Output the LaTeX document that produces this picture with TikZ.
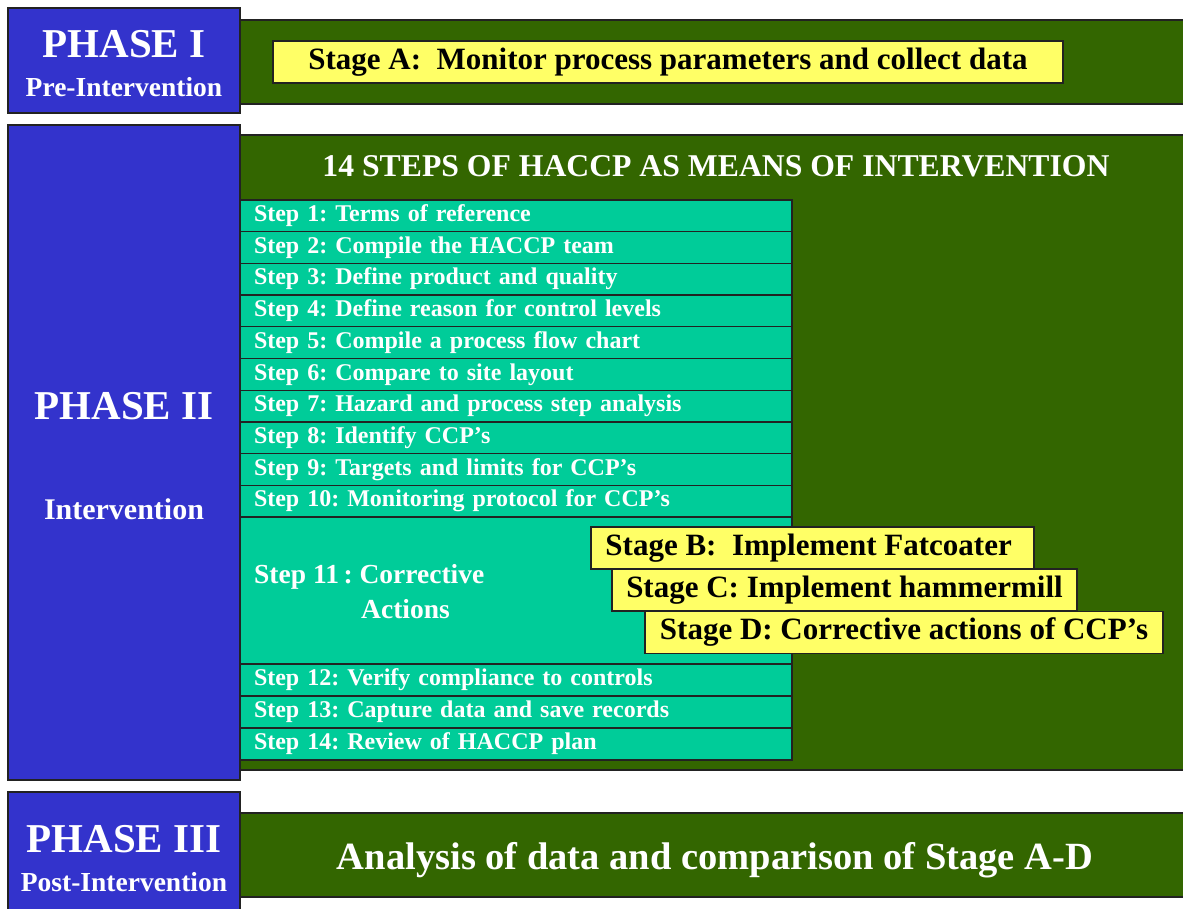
\documentclass[tikz,border=0pt]{standalone}
\usepackage{fontspec}
\setmainfont{Liberation Serif}
\frenchspacing
\definecolor{phaseblue}{HTML}{3333CC}
\definecolor{leafgreen}{HTML}{336600}
\definecolor{stepteal}{HTML}{00CC99}
\definecolor{stageyellow}{HTML}{FFFF66}
\definecolor{edgegray}{HTML}{222222}

\tikzset{
  frame/.style={draw=edgegray, line width=1.3pt, inner sep=0pt, outer sep=0pt},
  phasebox/.style={frame, fill=phaseblue, minimum width=232pt},
  panel/.style={frame, fill=leafgreen, minimum width=950pt},
  steprow/.style={frame, fill=stepteal, minimum width=552pt, minimum height=31.7pt,
    text height=17pt, text depth=5.7pt,
    text width=524pt, align=left, text=white, font=\fontsize{24}{26}\selectfont\bfseries},
  stagebox/.style={frame, fill=stageyellow, minimum height=42pt,
    font=\fontsize{31}{33}\selectfont\bfseries},
  phasetitle/.style={text=white, anchor=base, inner sep=0pt, font=\fontsize{41}{44}\selectfont\bfseries},
  phasesub/.style={text=white, anchor=base, inner sep=0pt, font=\fontsize{27.5}{30}\selectfont\bfseries},
  lighttext/.style={text=white, anchor=base west, inner sep=0pt, font=\fontsize{27.5}{30}\selectfont\bfseries},
}

\begin{document}
\begin{tikzpicture}[x=1pt, y=-1pt]
\useasboundingbox (0,0) rectangle (1183,909);
\clip (0,0) rectangle (1183,909);

% green panels behind everything
\node[panel, minimum height=84pt]  (panelA) at (715,62) {};
\node[panel, minimum height=635pt] (panelB) at (715,452.5) {};
\node[panel, minimum height=84pt]  (panelC) at (715,855) {};

% phase boxes on the left
\node[phasebox, minimum height=105pt] (phaseI)   at (124,60.5)  {};
\node[phasebox, minimum height=655pt] (phaseII)  at (124,452.5) {};
\node[phasebox, minimum height=123pt] (phaseIII) at (124,853.5) {};

\node[phasetitle] (phaseIlabel)   at (124,58)  {PHASE I};
\node[phasesub]   (phaseIsub)     at (124,97)  {Pre-Intervention};
\node[phasetitle] (phaseIIlabel)  at (124,419) {PHASE II};
\node[phasesub, font=\fontsize{30}{32}\selectfont\bfseries] (phaseIIsub) at (124,519) {Intervention};
\node[phasetitle] (phaseIIIlabel) at (124,852) {PHASE III};
\node[phasesub]   (phaseIIIsub)   at (124,891) {Post-Intervention};

% stage A
\node[stagebox, minimum width=790pt] (stageA) at (668,62)
  {Stage A:\ \ Monitor process parameters and collect data};

% HACCP heading
\node[text=white, anchor=base, inner sep=0pt, font=\fontsize{31.7}{34}\selectfont\bfseries]
  (haccp) at (716,177) {14 STEPS OF HACCP AS MEANS OF INTERVENTION};

% the fourteen steps
\foreach \i/\txt in {
  1/{Step 1: Terms of reference},
  2/{Step 2: Compile the HACCP team},
  3/{Step 3: Define product and quality},
  4/{Step 4: Define reason for control levels},
  5/{Step 5: Compile a process flow chart},
  6/{Step 6: Compare to site layout},
  7/{Step 7: Hazard and process step analysis},
  8/{Step 8: Identify CCP’s},
  9/{Step 9: Targets and limits for CCP’s},
  10/{Step 10: Monitoring protocol for CCP’s}}
  \node[steprow] (step\i) at (516,{200+31.7*(\i-0.5)}) {\txt};

\node[steprow, minimum height=147pt] (step11) at (516,590.5) {};
\node[lighttext] (step11a) at (254,583) {Step 11\,: Corrective};
\node[lighttext] (step11b) at (361,618) {Actions};

\foreach \i/\txt in {
  12/{Step 12: Verify compliance to controls},
  13/{Step 13: Capture data and save records},
  14/{Step 14: Review of HACCP plan}}
  \node[steprow] (step\i) at (516,{664+32*(\i-11.5)}) {\txt};

% stages B to D overlapping step 11
\node[stagebox, minimum width=443pt] (stageB) at (812.5,548)  {Stage B:\ \ Implement Fatcoater\ \ };
\node[stagebox, minimum width=465pt] (stageC) at (844.5,590)  {Stage C:\ Implement hammermill};
\node[stagebox, minimum width=518pt] (stageD) at (904,632.5)  {Stage D:\ Corrective actions of CCP’s};

% phase III summary
\node[text=white, anchor=base, inner sep=0pt, font=\fontsize{38.5}{42}\selectfont\bfseries]
  (analysis) at (715,869) {Analysis of data and comparison of Stage A-D};
\end{tikzpicture}
\end{document}
